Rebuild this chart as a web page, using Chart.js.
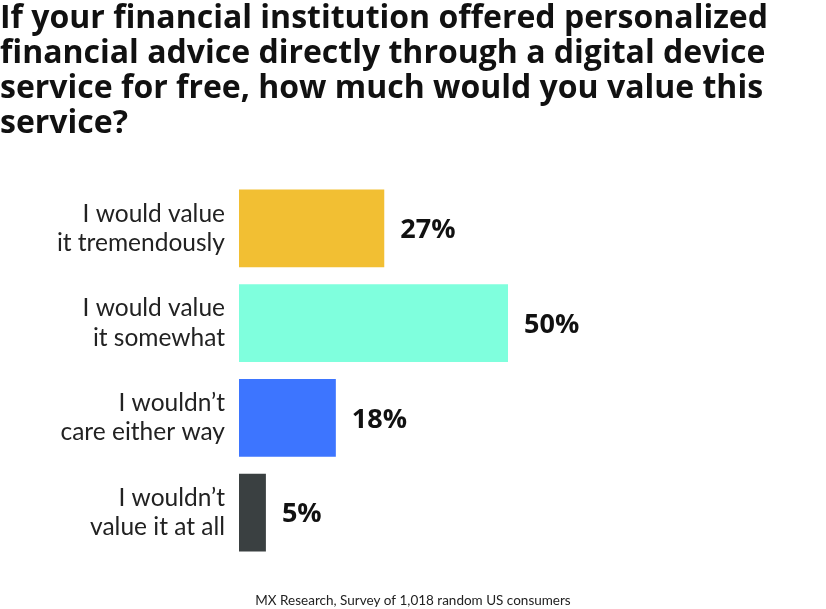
<!DOCTYPE html>
<html>
<head>
<meta charset="utf-8">
<script src="https://cdn.jsdelivr.net/npm/chart.js@4/dist/chart.umd.min.js"></script>
<style>
  html, body { margin: 0; padding: 0; background: #fff; }
  #wrap { width: 826px; height: 609px; position: relative; }
</style>
</head>
<body>
<div id="wrap"><canvas id="chart"></canvas></div>
<script>
// categorii si valori
const categorii = [
  ['I would value', 'it tremendously'],
  ['I would value', 'it somewhat'],
  ['I wouldn\u2019t', 'care either way'],
  ['I wouldn\u2019t', 'value it at all']
];
const valori = [27, 50, 18, 5];
const culoriBare = ['#F2BF33', '#7FFFDD', '#3D75FF', '#3A4041'];

const titlu = [
  'If your financial institution offered personalized',
  'financial advice directly through a digital device',
  'service for free, how much would you value this',
  'service?'
];
const sursa = 'MX Research, Survey of 1,018 random US consumers';

const fontFam = 'Lato, "Open Sans", sans-serif';
const fontTitlu = '"Open Sans", Lato, sans-serif';

// titlul si sursa, desenate de mana ca sa controlam pozitia
const textePlugin = {
  id: 'texte',
  afterDraw(chart) {
    const ctx = chart.ctx;
    ctx.save();
    ctx.fillStyle = '#111';
    ctx.font = 'bold 32px ' + fontTitlu;
    ctx.textAlign = 'left';
    ctx.textBaseline = 'alphabetic';
    titlu.forEach((l, i) => ctx.fillText(l, 0, 28 + i * 35));

    ctx.font = '13.5px ' + fontFam;
    ctx.textAlign = 'center';
    ctx.fillStyle = '#222';
    ctx.fillText(sursa, 413, 605);

    // etichete cu procente
    const meta = chart.getDatasetMeta(0);
    ctx.font = 'bold 27px ' + fontTitlu;
    ctx.textAlign = 'left';
    ctx.textBaseline = 'middle';
    ctx.fillStyle = '#111';
    meta.data.forEach((bar, i) => {
      ctx.fillText(valori[i] + '%', bar.x + 16, bar.y + 2);
    });
    ctx.restore();
  }
};

new Chart(document.getElementById('chart').getContext('2d'), {
  type: 'bar',
  data: {
    labels: categorii,
    datasets: [{
      data: valori,
      backgroundColor: culoriBare,
      borderWidth: 0,
      barPercentage: 0.82,
      categoryPercentage: 1
    }]
  },
  options: {
    indexAxis: 'y',
    responsive: true,
    maintainAspectRatio: false,
    animation: false,
    layout: { padding: { top: 181, bottom: 49, left: 0, right: 49 } },
    plugins: {
      legend: { display: false },
      tooltip: { enabled: false }
    },
    scales: {
      x: { display: false, min: 0, max: 100 },
      y: {
        grid: { display: false, drawTicks: false },
        border: { display: false },
        afterFit: (scale) => { scale.width = 239; },
        ticks: {
          color: '#222',
          padding: 14,
          font: { family: fontFam, size: 24.5 },
          lineHeight: 1.15
        }
      }
    }
  },
  plugins: [textePlugin]
});
</script>
</body>
</html>
